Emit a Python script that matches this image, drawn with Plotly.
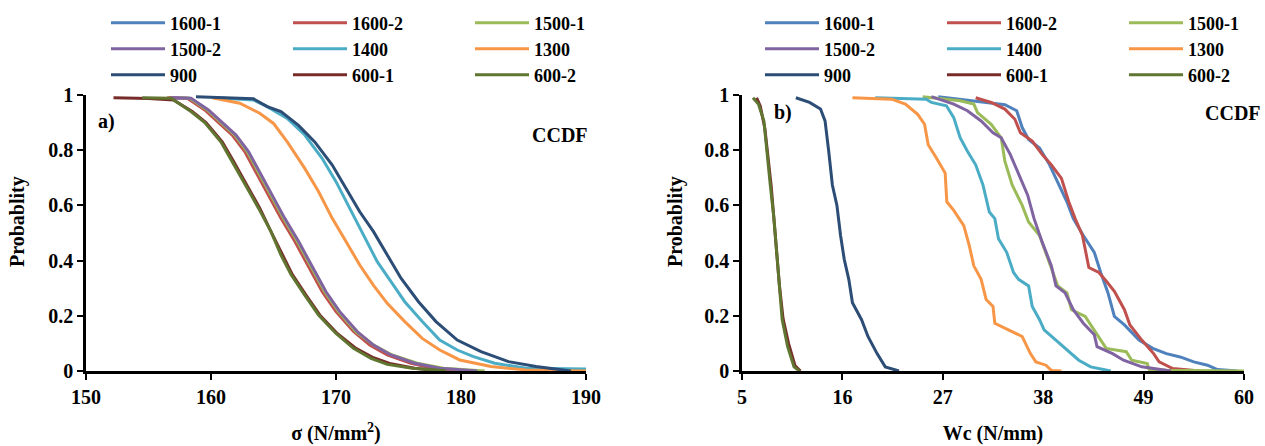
import plotly.graph_objects as go

# ---------------- data ----------------
SERIES = ["1600-1", "1600-2", "1500-1", "1500-2", "1400", "1300", "900", "600-1", "600-2"]
COLORS = ["#4F81BD", "#C0504D", "#9BBB59", "#8064A2", "#4BACC6", "#F79646", "#2C4D75", "#772C2A", "#5F7530"]

# (a) sigma (N/mm2) vs CCDF probability
A_1600_1_X = [156.7, 158.2, 159.6, 160.7, 161.8, 162.8, 163.7, 164.7, 165.7, 166.8, 167.9, 169.0, 170.1, 171.5, 172.8, 174.2, 176.1, 178.0, 180.0]
A_1600_1_Y = [0.99, 0.988, 0.946, 0.90, 0.855, 0.795, 0.72, 0.64, 0.553, 0.47, 0.378, 0.287, 0.215, 0.143, 0.094, 0.058, 0.028, 0.010, 0.0]
A_1600_2_X = [156.5, 158.1, 159.5, 160.6, 161.7, 162.7, 163.6, 164.6, 165.6, 166.7, 167.8, 168.9, 170.0, 171.4, 172.7, 174.1, 176.0, 177.8, 180.4]
A_1600_2_Y = [0.99, 0.988, 0.946, 0.90, 0.855, 0.795, 0.72, 0.64, 0.553, 0.47, 0.378, 0.287, 0.215, 0.143, 0.094, 0.058, 0.028, 0.010, 0.0]
A_1500_1_X = [157.5, 158.3, 159.7, 160.8, 161.9, 162.9, 163.8, 164.8, 165.8, 166.9, 168.0, 169.1, 170.2, 171.6, 173.0, 174.5, 176.5, 178.6, 181.9]
A_1500_1_Y = [0.99, 0.988, 0.946, 0.90, 0.855, 0.795, 0.72, 0.64, 0.553, 0.47, 0.378, 0.287, 0.215, 0.143, 0.094, 0.058, 0.028, 0.010, 0.0]
A_1500_2_X = [156.9, 158.4, 159.8, 160.9, 162.0, 163.0, 163.9, 164.9, 165.9, 167.0, 168.1, 169.2, 170.3, 171.7, 173.0, 174.4, 176.3, 178.3, 181.3]
A_1500_2_Y = [0.99, 0.988, 0.946, 0.90, 0.855, 0.795, 0.72, 0.64, 0.553, 0.47, 0.378, 0.287, 0.215, 0.143, 0.094, 0.058, 0.028, 0.010, 0.0]
A_1400_X = [160.3, 163.4, 164.5, 166.1, 167.5, 168.9, 170.0, 171.1, 172.2, 173.3, 174.4, 175.5, 176.9, 178.3, 179.7, 181.0, 182.7, 185.2, 190.0]
A_1400_Y = [0.99, 0.982, 0.958, 0.915, 0.855, 0.77, 0.686, 0.59, 0.493, 0.396, 0.324, 0.251, 0.179, 0.112, 0.076, 0.052, 0.028, 0.01, 0.007]
A_1300_X = [160.1, 162.3, 163.9, 165.0, 166.1, 167.5, 168.6, 169.7, 170.8, 171.9, 173.0, 174.1, 175.5, 176.9, 178.3, 179.9, 182.4, 185.2, 190.0]
A_1300_Y = [0.99, 0.97, 0.934, 0.897, 0.83, 0.734, 0.65, 0.553, 0.469, 0.384, 0.31, 0.245, 0.179, 0.118, 0.076, 0.04, 0.016, 0.004, 0.0]
A_900_X = [158.8, 163.4, 164.5, 165.6, 167.0, 168.3, 169.7, 170.8, 171.9, 173.0, 174.1, 175.2, 176.6, 178.0, 179.7, 181.6, 183.8, 186.0, 188.8]
A_900_Y = [0.994, 0.986, 0.958, 0.94, 0.89, 0.83, 0.746, 0.662, 0.577, 0.505, 0.42, 0.336, 0.251, 0.179, 0.112, 0.07, 0.034, 0.016, 0.0]
A_600_1_X = [152.2, 155.0, 157.0, 158.5, 159.6, 160.9, 161.8, 162.9, 163.9, 164.8, 165.7, 166.5, 167.6, 168.7, 170.1, 171.6, 173.0, 174.4, 176.3, 178.3]
A_600_1_Y = [0.99, 0.987, 0.982, 0.94, 0.90, 0.83, 0.76, 0.67, 0.59, 0.505, 0.42, 0.35, 0.275, 0.203, 0.136, 0.082, 0.048, 0.026, 0.010, 0.0]
A_600_2_X = [154.5, 156.8, 158.4, 159.5, 160.8, 161.7, 162.8, 163.8, 164.8, 165.6, 166.4, 167.5, 168.6, 170.0, 171.4, 172.8, 174.1, 176.1, 178.8]
A_600_2_Y = [0.99, 0.988, 0.94, 0.90, 0.83, 0.76, 0.67, 0.59, 0.505, 0.42, 0.35, 0.275, 0.203, 0.136, 0.082, 0.046, 0.024, 0.010, 0.001]

# (b) Wc (N/mm) vs CCDF probability
B_1600_1_X = [26.5, 33.8, 35.1, 35.7, 36.4, 37.6, 38.7, 39.6, 40.6, 41.3, 42.4, 43.6, 44.3, 45.1, 45.8, 46.9, 48.5, 50.0, 51.5, 53.0, 54.5, 56.0, 57.1, 59.3]
B_1600_1_Y = [0.994, 0.965, 0.943, 0.882, 0.839, 0.808, 0.747, 0.686, 0.613, 0.552, 0.491, 0.43, 0.357, 0.283, 0.198, 0.167, 0.112, 0.082, 0.063, 0.051, 0.033, 0.021, 0.005, 0.0]
B_1600_2_X = [30.6, 32.3, 33.8, 34.9, 35.5, 36.8, 37.9, 38.9, 40.0, 40.8, 41.5, 42.3, 43.0, 44.1, 44.9, 45.8, 46.9, 47.5, 48.8, 50.1, 50.7, 52.2, 55.2]
B_1600_2_Y = [0.99, 0.973, 0.949, 0.912, 0.863, 0.833, 0.784, 0.747, 0.698, 0.613, 0.552, 0.491, 0.375, 0.357, 0.326, 0.289, 0.222, 0.167, 0.112, 0.063, 0.033, 0.009, 0.0]
B_1500_1_X = [24.8, 28.9, 30.4, 30.8, 32.3, 33.4, 33.8, 34.6, 35.7, 36.4, 37.6, 38.7, 39.6, 40.6, 41.1, 42.6, 43.6, 44.9, 47.1, 47.7, 49.4, 49.6, 51.5, 60.0]
B_1500_1_Y = [0.994, 0.979, 0.967, 0.936, 0.894, 0.845, 0.76, 0.674, 0.6, 0.54, 0.491, 0.393, 0.308, 0.283, 0.222, 0.198, 0.149, 0.082, 0.07, 0.039, 0.027, 0.006, 0.003, 0.0]
B_1500_2_X = [25.75, 27.1, 28.2, 29.7, 31.2, 32.5, 33.4, 34.4, 35.3, 36.3, 37.0, 37.9, 38.9, 39.4, 40.4, 41.3, 42.4, 43.6, 43.9, 45.6, 46.8, 48.8, 52.0]
B_1500_2_Y = [0.994, 0.979, 0.967, 0.943, 0.906, 0.863, 0.845, 0.784, 0.711, 0.637, 0.552, 0.466, 0.381, 0.308, 0.283, 0.222, 0.173, 0.131, 0.088, 0.063, 0.039, 0.015, 0.0]
B_1400_X = [19.6, 25.2, 25.75, 27.4, 28.2, 28.9, 29.7, 30.6, 31.4, 32.1, 32.7, 33.1, 34.0, 34.75, 35.3, 36.4, 36.8, 37.6, 38.1, 39.4, 40.6, 41.9, 43.2, 45.4]
B_1400_Y = [0.99, 0.985, 0.973, 0.961, 0.918, 0.845, 0.796, 0.747, 0.674, 0.576, 0.552, 0.479, 0.43, 0.357, 0.332, 0.308, 0.234, 0.186, 0.149, 0.112, 0.076, 0.039, 0.015, 0.0]
B_1300_X = [17.1, 21.4, 22.9, 24.25, 25.0, 25.4, 26.3, 27.26, 27.44, 28.2, 29.3, 29.9, 30.4, 31.2, 31.75, 32.5, 32.7, 34.2, 35.7, 36.6, 37.2, 38.3, 38.9, 40.0]
B_1300_Y = [0.99, 0.985, 0.967, 0.93, 0.894, 0.82, 0.772, 0.717, 0.613, 0.582, 0.527, 0.454, 0.381, 0.332, 0.259, 0.234, 0.173, 0.149, 0.125, 0.063, 0.033, 0.021, 0.002, 0.0]
B_900_X = [10.9, 12.4, 13.6, 14.1, 14.5, 14.9, 15.4, 15.8, 16.2, 16.7, 17.1, 18.1, 18.8, 19.8, 20.7, 22.2]
B_900_Y = [0.99, 0.973, 0.949, 0.906, 0.796, 0.674, 0.6, 0.491, 0.405, 0.332, 0.247, 0.186, 0.125, 0.063, 0.015, 0.0]
B_600_1_X = [6.6, 7.0, 7.5, 7.8, 8.2, 8.5, 8.8, 9.1, 9.5, 10.1, 10.8, 11.4]
B_600_1_Y = [0.99, 0.96, 0.88, 0.79, 0.67, 0.55, 0.43, 0.31, 0.19, 0.10, 0.02, 0.0]
B_600_2_X = [6.2, 6.8, 7.4, 7.7, 8.1, 8.5, 8.8, 9.05, 9.4, 10.0, 10.7, 11.3]
B_600_2_Y = [0.99, 0.967, 0.906, 0.796, 0.674, 0.552, 0.43, 0.308, 0.186, 0.088, 0.015, 0.0]

A_DATA = [(A_1600_1_X, A_1600_1_Y), (A_1600_2_X, A_1600_2_Y), (A_1500_1_X, A_1500_1_Y),
          (A_1500_2_X, A_1500_2_Y), (A_1400_X, A_1400_Y), (A_1300_X, A_1300_Y),
          (A_900_X, A_900_Y), (A_600_1_X, A_600_1_Y), (A_600_2_X, A_600_2_Y)]
B_DATA = [(B_1600_1_X, B_1600_1_Y), (B_1600_2_X, B_1600_2_Y), (B_1500_1_X, B_1500_1_Y),
          (B_1500_2_X, B_1500_2_Y), (B_1400_X, B_1400_Y), (B_1300_X, B_1300_Y),
          (B_900_X, B_900_Y), (B_600_1_X, B_600_1_Y), (B_600_2_X, B_600_2_Y)]

Y_TICKS = [0, 0.2, 0.4, 0.6, 0.8, 1]
Y_TICK_TEXT = ["0", "0.2", "0.4", "0.6", "0.8", "1"]
A_X_TICKS = [150, 160, 170, 180, 190]
B_X_TICKS = [5, 16, 27, 38, 49, 60]

# ---------------- figure ----------------
W, H = 1265, 446
ML, MR, MT, MB = 86, 21, 95, 75
PW = W - ML - MR
PH = H - MT - MB

def px_x(p):
    return (p - ML) / PW

def px_y(p):
    return (H - MB - p) / PH

FONT = "Liberation Serif, Times New Roman, serif"
fig = go.Figure()

legend_names = ["legend", "legend2", "legend3", "legend4", "legend5", "legend6"]
for i, name in enumerate(SERIES):
    row = i // 3
    x, y = A_DATA[i]
    fig.add_trace(go.Scatter(x=x, y=y, mode="lines", name=name,
                             line=dict(color=COLORS[i], width=3),
                             xaxis="x", yaxis="y", legend=legend_names[row]))
for i, name in enumerate(SERIES):
    row = i // 3
    x, y = B_DATA[i]
    fig.add_trace(go.Scatter(x=x, y=y, mode="lines", name=name,
                             line=dict(color=COLORS[i], width=3),
                             xaxis="x2", yaxis="y2", legend=legend_names[3 + row]))

axis_common = dict(showline=True, linecolor="black", linewidth=2.5, ticks="outside",
                   ticklen=6, tickwidth=2, tickcolor="black", showgrid=False, zeroline=False,
                   automargin=False,
                   tickfont=dict(family=FONT, size=20, color="black", weight="bold"))

left_dom = [0, px_x(586)]
right_dom = [px_x(742), 1]

legend_rows_y = [23, 49, 75]
leg_common = dict(orientation="h", xanchor="left", yanchor="middle", entrywidth=113,
                  entrywidthmode="pixels", itemwidth=54, bgcolor="rgba(0,0,0,0)",
                  font=dict(family=FONT, size=18, color="black", weight="bold"),
                  traceorder="normal", itemclick=False, itemdoubleclick=False)
legends = {}
for r in range(3):
    legends[legend_names[r]] = dict(leg_common, x=px_x(106), y=px_y(legend_rows_y[r]))
    legends[legend_names[3 + r]] = dict(leg_common, x=px_x(760), y=px_y(legend_rows_y[r]))

fig.update_layout(
    width=W, height=H,
    margin=dict(l=ML, r=MR, t=MT, b=MB, pad=0, autoexpand=False),
    paper_bgcolor="white", plot_bgcolor="white",
    font=dict(family=FONT, size=20, color="black", weight="bold"),
    showlegend=True,
    xaxis=dict(axis_common, domain=left_dom, range=[150, 190], tickvals=A_X_TICKS,
               title=dict(text="σ (N/mm<sup>2</sup>)", standoff=20,
                          font=dict(family=FONT, size=20, color="black", weight="bold")),
               anchor="y"),
    yaxis=dict(axis_common, domain=[0, 1], range=[0, 1], tickvals=Y_TICKS, ticktext=Y_TICK_TEXT,
               anchor="x"),
    xaxis2=dict(axis_common, domain=right_dom, range=[5, 60], tickvals=B_X_TICKS,
                title=dict(text="Wc (N/mm)", standoff=20,
                           font=dict(family=FONT, size=20, color="black", weight="bold")),
                anchor="y2"),
    yaxis2=dict(axis_common, domain=[0, 1], range=[0, 1], tickvals=Y_TICKS, ticktext=Y_TICK_TEXT,
                anchor="x2"),
    **legends,
)

ann_font = dict(family=FONT, size=20, color="black", weight="bold")
annotations = [
    dict(text="Probablity", x=px_x(17), y=px_y(222), textangle=-90),
    dict(text="Probablity", x=px_x(675), y=px_y(222), textangle=-90),
    dict(text="a)", x=px_x(106), y=px_y(121)),
    dict(text="CCDF", x=px_x(560), y=px_y(135)),
    dict(text="b)", x=px_x(783), y=px_y(112)),
    dict(text="CCDF", x=px_x(1233), y=px_y(113)),
]
for a in annotations:
    fig.add_annotation(xref="paper", yref="paper", xanchor="center", yanchor="middle",
                       showarrow=False, font=ann_font, **a)

fig.write_html("out.html", config={"displayModeBar": False},
               post_script="document.body.style.margin='0';document.body.style.overflow='hidden';")
